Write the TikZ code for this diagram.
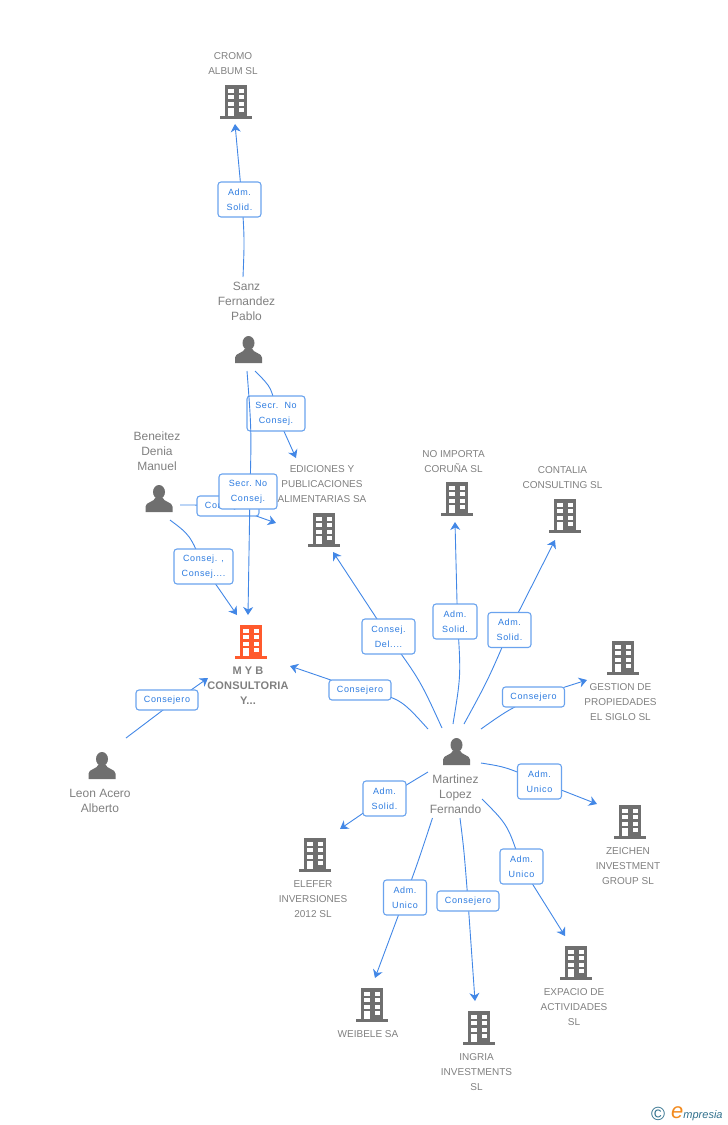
\documentclass[tikz,border=0pt]{standalone}
\usepackage{fontspec}
\setmainfont{Liberation Sans}
\newfontfamily\lblfont[LetterSpace=7]{Liberation Sans}
\newfontfamily\boldlbl[LetterSpace=1.5]{Liberation Sans Bold}
\usetikzlibrary{arrows.meta,calc}
\definecolor{iconGray}{HTML}{6F6F6F}
\definecolor{txtGray}{HTML}{808080}
\definecolor{mainOrange}{HTML}{FF5A2D}
\definecolor{linkBlue}{HTML}{4287E6}
\definecolor{boxBlue}{HTML}{6AA3EE}
\definecolor{lblBlue}{HTML}{2C7BE0}
\definecolor{logoTeal}{HTML}{2F6F8C}
\definecolor{logoOrange}{HTML}{F28A1E}
\tikzset{
  x=1pt,y=-1pt,
  iconbox/.style={inner sep=0,minimum width=32,minimum height=35},
  ent/.style={inner sep=0,align=center,text=txtGray,font=\fontsize{10}{15}\selectfont},
  per/.style={inner sep=0,align=center,text=txtGray,font=\fontsize{12}{15}\selectfont},
  conn/.style={draw=linkBlue,line width=0.9pt,-{Stealth[length=8pt,width=10pt,inset=2.5pt]}},
  lbl/.style={draw=boxBlue,line width=1.1pt,rounded corners=3pt,fill=white,inner sep=0,align=center,
    text=lblBlue,font=\lblfont\fontsize{9}{15}\selectfont},
  two/.style={minimum width=#1,minimum height=35},
  one/.style={minimum width=62,minimum height=20},
  pics/bld/.style={code={
    \fill[#1] (-11,-17) rectangle (11,14);
    \fill[#1] (-16,14) rectangle (16,17);
    \foreach \yy in {-13.5,-7,-0.5,5.5}{
      \fill[white] (-8,\yy) rectangle (-2.5,\yy+4.3);
      \fill[white] (2.5,\yy) rectangle (8,\yy+4.3);
    }
    \fill[white] (-8,5.5) rectangle (-2.5,14);
  }},
  pics/person/.style={code={
    \fill[iconGray] (0,-6.5) ellipse [x radius=6,y radius=7];
    \fill[iconGray] (-13.5,13.5) -- (-13.5,8) .. controls (-13.5,3.5) and (-4.5,3.5) .. (-3.5,-1)
      -- (3.5,-1) .. controls (4.5,3.5) and (13.5,3.5) .. (13.5,8) -- (13.5,13.5) -- cycle;
  }}
}
% #1 name, #2 position, #3 colour
\newcommand{\company}[3]{\node[iconbox] (#1) at (#2) {}; \pic at (#1) {bld=#3};}
\newcommand{\human}[2]{\node[iconbox] (#1) at (#2) {}; \pic at (#1) {person};}
% #1 label name, #2 point the line runs through, #3 label style, #4 text, #5 source node, #6 source offset, #7 control, #8 rest
\newcommand{\relation}[8]{%
  \coordinate (#1c) at (#2);
  \draw[conn] ($(#5)+(#6)$) .. controls (#7) .. (#1c) -- #8;
  \node[lbl,#3] (#1) at (#1c) {#4};
}
\begin{document}
\begin{tikzpicture}
\useasboundingbox (0,0) rectangle (728,1125);
% entities
\company{cromo}{236,102}{iconGray}
\company{ediciones}{324,530}{iconGray}
\company{noimporta}{457,499}{iconGray}
\company{contalia}{565,516}{iconGray}
\company{myb}{251,642}{mainOrange}
\company{gestion}{623,658}{iconGray}
\company{zeichen}{630,822}{iconGray}
\company{elefer}{315,855}{iconGray}
\company{expacio}{576,963}{iconGray}
\company{weibele}{372,1005}{iconGray}
\company{ingria}{479,1028}{iconGray}
\human{sanz}{248.5,349.5}
\human{beneitez}{159,498.5}
\human{leon}{102,765.5}
\human{martinez}{456.5,751.5}
% relations
\relation{l1}{242,199.5}{two=43,xshift=-2.5pt}{Adm.\\Solid.}{sanz}{-5.5,-72.5}{244.5,240}{($(cromo)+(-1,22)$)}
\relation{l2}{276,413.5}{two=58}{Secr.\ \ No\\Consej.}{sanz}{6.5,21.5}{272,388}{($(ediciones)+(-28,-72)$)}
\relation{l3}{228,506}{one}{Consejero}{beneitez}{21,6.5}{200,505}{($(ediciones)+(-48,-7)$)}
\relation{l4}{250,491.5}{two=58,xshift=-2pt}{Secr.\ No\\Consej.}{sanz}{-1.5,21.5}{251.5,430}{($(myb)+(-3,-27)$)}
\relation{l5}{203.5,566.5}{two=59}{Consej. ,\\Consej....}{beneitez}{11,21.5}{190,535}{($(myb)+(-14,-27)$)}
\relation{l6}{167,707}{one,yshift=7pt}{Consejero}{leon}{24,-27.5}{146.5,722.5}{($(myb)+(-43,36)$)}
\relation{l7}{360,690}{one}{Consejero}{martinez}{-28.5,-22.5}{400,698}{($(myb)+(39,24)$)}
\relation{l8}{388.5,636.5}{two=53}{Consej.\\Del....}{martinez}{-14.5,-23.5}{420,680}{($(ediciones)+(9,22)$)}
\relation{l9}{457.5,621.5}{two=44,xshift=-2.5pt}{Adm.\\Solid.}{martinez}{-3.5,-27.5}{461,675}{($(noimporta)+(-2,23)$)}
\relation{l10}{509.5,630}{two=43}{Adm.\\Solid.}{martinez}{7.5,-27.5}{488,680}{($(contalia)+(-10,24)$)}
\relation{l11}{533.5,697}{one}{Consejero}{martinez}{24.5,-22.5}{505,712}{($(gestion)+(-36,22)$)}
\relation{l12}{539.5,781.5}{two=44}{Adm.\\Unico}{martinez}{24.5,11.5}{506,767}{($(zeichen)+(-33,-18)$)}
\relation{l13}{384.5,798.5}{two=43}{Adm.\\Solid.}{martinez}{-28.5,20.5}{408,784}{($(elefer)+(25,-26)$)}
\relation{l14}{521.5,866.5}{two=43}{Adm.\\Unico}{martinez}{25.5,47.5}{508,825}{($(expacio)+(-11,-27)$)}
\relation{l15}{468,901}{one}{Consejero}{martinez}{3.5,66.5}{464,850}{($(ingria)+(-4,-27)$)}
\relation{l16}{405,897.5}{two=43}{Adm.\\Unico}{martinez}{-24,66.5}{418,862}{($(weibele)+(3,-27)$)}
% entity texts
\node[ent] (tcromo) at (233,64) {CROMO\\ALBUM SL};
\node[ent] (tedic) at (322,484) {EDICIONES Y\\PUBLICACIONES\\ALIMENTARIAS SA};
\node[ent] (tnoimp) at (453.5,461.5) {NO IMPORTA\\CORUÑA SL};
\node[ent] (tconta) at (562.5,477.5) {CONTALIA\\CONSULTING SL};
\node[ent] (tgest) at (620.5,702) {GESTION DE\\PROPIEDADES\\EL SIGLO SL};
\node[ent] (tzeich) at (628,866) {ZEICHEN\\INVESTMENT\\GROUP SL};
\node[ent] (telef) at (313,899) {ELEFER\\INVERSIONES\\2012 SL};
\node[ent] (texpa) at (574,1007) {EXPACIO DE\\ACTIVIDADES\\SL};
\node[ent] (tweib) at (368,1034) {WEIBELE SA};
\node[ent] (tingr) at (476.5,1072) {INGRIA\\INVESTMENTS\\SL};
\node[per] (tsanz) at (246.5,301.5) {Sanz\\Fernandez\\Pablo};
\node[per] (tben) at (157,451) {Beneitez\\Denia\\Manuel};
\node[per] (tleon) at (100,800.5) {Leon Acero\\Alberto};
\node[per] (tmart) at (455.5,794.5) {Martinez\\Lopez\\Fernando};
\node[inner sep=0,align=center,text=txtGray,font=\boldlbl\fontsize{11}{15}\selectfont] (tmyb) at (248,685.5) {M Y B\\CONSULTORIA\\Y...};
% logo
\node[inner sep=0,text=logoTeal,font=\fontsize{19}{19}\selectfont] (logoc) at (658,1114) {©};
\node[inner sep=0,anchor=base west,font=\fontsize{11}{11}\selectfont\itshape,text=logoTeal] (logot) at (671,1118)
  {{\color{logoOrange}\fontsize{22}{22}\selectfont e}mpresia};
\end{tikzpicture}
\end{document}
